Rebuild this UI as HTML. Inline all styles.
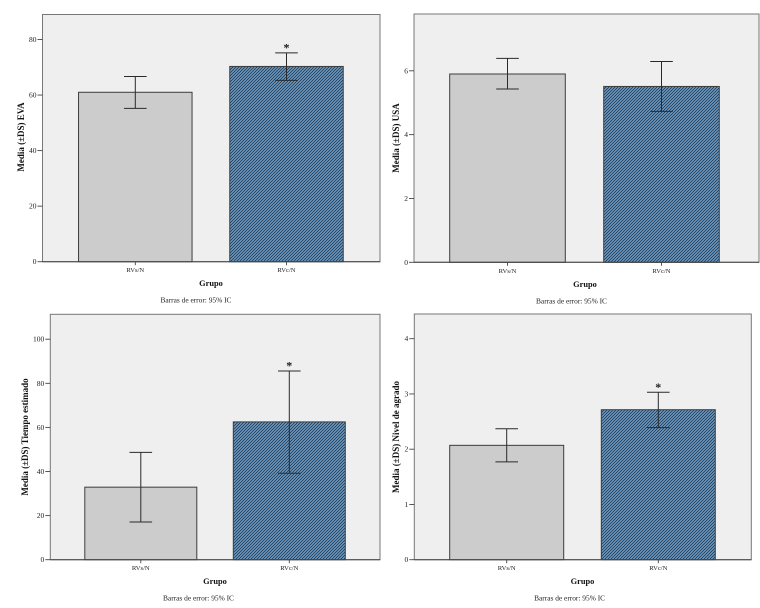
<!DOCTYPE html>
<html lang="es">
<head>
<meta charset="utf-8">
<title>Barras de error 95% IC</title>
<style>
html,body{margin:0;padding:0;background:#fff;}
body{width:760px;height:608px;overflow:hidden;}
svg{display:block;font-family:"Liberation Serif",serif;}
</style>
</head>
<body>
<svg id="figure" xmlns="http://www.w3.org/2000/svg" width="760" height="608" viewBox="0 0 760 608">
<defs>
<pattern id="hatch" patternUnits="userSpaceOnUse" width="3" height="3">
<rect width="3" height="3" fill="#6fa1ce"/>
<path d="M-1 1L1 -1M0 3L3 0M2 4L4 2" stroke="#22364a" stroke-width="0.85"/>
</pattern>
</defs>
</svg>
<script>
// Chart data
const categories = ['RVs/N', 'RVc/N'];
const evaMeans = [61, 70.3];
const evaLower = [55.2, 65.3];
const evaUpper = [66.7, 75.2];
const evaTicks = [0, 20, 40, 60, 80];
const evaStars = ['', '*'];
const usaMeans = [5.9, 5.51];
const usaLower = [5.43, 4.73];
const usaUpper = [6.39, 6.29];
const usaTicks = [0, 2, 4, 6];
const usaStars = ['', ''];
const tiempoMeans = [32.9, 62.5];
const tiempoLower = [17.1, 39.2];
const tiempoUpper = [48.7, 85.6];
const tiempoTicks = [0, 20, 40, 60, 80, 100];
const tiempoStars = ['', '*'];
const agradoMeans = [2.07, 2.715];
const agradoLower = [1.77, 2.39];
const agradoUpper = [2.37, 3.03];
const agradoTicks = [0, 1, 2, 3, 4];
const agradoStars = ['', '*'];

const NS = 'http://www.w3.org/2000/svg';
const figure = document.getElementById('figure');

function node(parent, tag, attrs, text) {
  const el = document.createElementNS(NS, tag);
  for (const k in attrs) el.setAttribute(k, attrs[k]);
  if (text !== undefined) el.textContent = text;
  parent.appendChild(el);
  return el;
}

function drawChart(c) {
  const g = node(figure, 'g', {});
  
  

  const y = v => c.bottom - (v / c.domainMax) * (c.bottom - c.top);
  const x = i => c.firstCenter + i * c.step;

  const plot = node(g, 'rect', {x: c.left, y: c.top, width: c.right - c.left, height: c.bottom - c.top, fill: '#efefef', stroke: '#777', 'stroke-width': 1});
  
  

  c.ticks.forEach(t => {
    const tick = node(g, 'line', {x1: c.left - 5, x2: c.left, y1: y(t), y2: y(t), stroke: '#444', 'stroke-width': 0.9});
    
    
    const label = node(g, 'text', {x: c.left - 6, y: y(t) + 2.5, 'text-anchor': 'end', 'font-size': 7.5, fill: '#222'}, String(t));
    
    
  });

  c.means.forEach((m, i) => {
    const bar = node(g, 'rect', {x: x(i) - c.barWidth / 2, y: y(m), width: c.barWidth, height: y(0) - y(m), fill: i === 0 ? '#cccccc' : 'url(#hatch)', stroke: '#3c3c3c', 'stroke-width': 1});
    
    

    const err = node(g, 'path', {d: 'M' + x(i) + ' ' + y(c.upper[i]) + 'V' + y(c.lower[i]) + 'M' + (x(i) - 11.3) + ' ' + y(c.upper[i]) + 'h22.6M' + (x(i) - 11.3) + ' ' + y(c.lower[i]) + 'h22.6', fill: 'none', stroke: '#2a2a2a', 'stroke-width': 1});
    
    

    const tick = node(g, 'line', {x1: x(i), x2: x(i), y1: c.bottom, y2: c.bottom + 3.5, stroke: '#444', 'stroke-width': 0.9});
    
    
    const label = node(g, 'text', {x: x(i), y: c.bottom + 10.5, 'text-anchor': 'middle', 'font-size': 6.6, fill: '#222'}, categories[i]);
    
    

    if (c.stars[i]) {
      const star = node(g, 'text', {x: x(i), y: y(c.upper[i]) - 1.5, 'text-anchor': 'middle', 'font-size': 12, 'font-weight': 'bold', fill: '#222'}, c.stars[i]);
      
      
    }
  });

  const baseline = node(g, 'line', {x1: c.left, x2: c.right, y1: c.bottom, y2: c.bottom, stroke: '#444', 'stroke-width': 1});
  
  

  const yTitle = node(g, 'text', {transform: 'translate(' + c.yTitleX + ' ' + c.yTitleY + ') rotate(-90)', 'text-anchor': 'middle', 'font-size': 9, 'font-weight': 'bold', fill: '#111'}, c.yTitle);
  
  

  const xTitle = node(g, 'text', {x: c.xTitleX, y: c.bottom + 24.5, 'text-anchor': 'middle', 'font-size': 8.4, 'font-weight': 'bold', fill: '#111'}, 'Grupo');
  
  

  const note = node(g, 'text', {x: c.noteX, y: c.bottom + 41, 'text-anchor': 'middle', 'font-size': 7.4, fill: '#222'}, 'Barras de error: 95% IC');
  
  
}

drawChart({id: 'eva', means: evaMeans, lower: evaLower, upper: evaUpper, ticks: evaTicks, stars: evaStars, domainMax: 89, yTitle: 'Media (±DS) EVA',
  left: 42.5, right: 380, top: 14.5, bottom: 261.7, firstCenter: 135.3, step: 151.2, barWidth: 113.5, yTitleX: 24, yTitleY: 137, xTitleX: 211, noteX: 196});
drawChart({id: 'usa', means: usaMeans, lower: usaLower, upper: usaUpper, ticks: usaTicks, stars: usaStars, domainMax: 7.78, yTitle: 'Media (±DS) USA',
  left: 414, right: 759, top: 14, bottom: 262.3, firstCenter: 507.5, step: 154, barWidth: 115.6, yTitleX: 399, yTitleY: 138, xTitleX: 585, noteX: 571.5});
drawChart({id: 'tiempo', means: tiempoMeans, lower: tiempoLower, upper: tiempoUpper, ticks: tiempoTicks, stars: tiempoStars, domainMax: 111.3, yTitle: 'Media (±DS) Tiempo estimado',
  left: 50.3, right: 380, top: 314.3, bottom: 559.7, firstCenter: 140.8, step: 148.5, barWidth: 112, yTitleX: 28, yTitleY: 437, xTitleX: 215, noteX: 198.5});
drawChart({id: 'agrado', means: agradoMeans, lower: agradoLower, upper: agradoUpper, ticks: agradoTicks, stars: agradoStars, domainMax: 4.447, yTitle: 'Media (±DS) Nivel de agrado',
  left: 414.3, right: 751.3, top: 314, bottom: 559.7, firstCenter: 506.7, step: 151.6, barWidth: 114, yTitleX: 399, yTitleY: 437, xTitleX: 582.5, noteX: 569.6});
</script>
</body>
</html>
